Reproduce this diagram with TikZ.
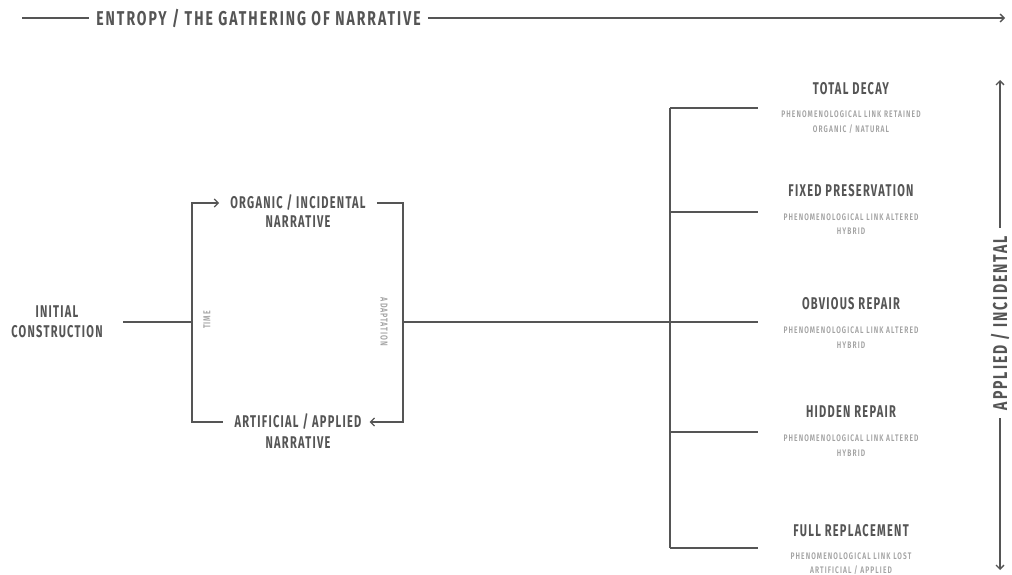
\documentclass[tikz,border=0pt]{standalone}
\usepackage{fontspec}
\usetikzlibrary{arrows.meta}
\newfontfamily\condfont{Fira Sans}[FakeStretch=0.65,LetterSpace=7.4,UprightFont=* Bold]
\newfontfamily\bigfont{Fira Sans}[FakeStretch=0.7,LetterSpace=10,UprightFont=* Bold]
\newfontfamily\condlight{Fira Sans}[FakeStretch=0.7,LetterSpace=11.5,UprightFont=* SemiBold]
\newfontfamily\tinyfont{Fira Sans}[FakeStretch=0.7,LetterSpace=10,UprightFont=* SemiBold]
\definecolor{ink}{HTML}{555555}
\definecolor{soft}{HTML}{A2A2A2}
\tikzset{
  wire/.style={draw=ink,line width=1.5pt},
  tip/.style={-{Straight Barb[length=4pt,width=8pt,line width=1.3pt]}},
  lab/.style={text=ink,font=\condfont\fontsize{17}{20}\selectfont,inner sep=0pt,align=center},
  big/.style={text=ink,font=\bigfont\fontsize{20}{24}\selectfont,inner sep=0pt},
  sub/.style={text=soft,font=\condlight\fontsize{9.5}{14.5}\selectfont,inner sep=0pt,align=center},
  tiny/.style={text=soft,font=\tinyfont\fontsize{10}{10}\selectfont,inner sep=0pt},
}
\begin{document}
\begin{tikzpicture}[x=1pt,y=-1pt]
\useasboundingbox (0,0) rectangle (1012,575);
% title
\node[big] (title) at (258.5,18) {ENTROPY / THE GATHERING OF NARRATIVE};
\coordinate (t0) at (22,18);
\coordinate (t1) at (1005,18);
\draw[wire] (t0) -- ([xshift=-7pt]title.west);
\draw[wire,tip] ([xshift=7pt]title.east) -- (t1);
% left part
\node[lab] (init) at (57,322) {INITIAL\\CONSTRUCTION};
\coordinate (a0) at (123,322);
\coordinate (L) at (192,322);
\coordinate (R) at (403,322);
\node[lab] (org1) at (298,203) {ORGANIC / INCIDENTAL};
\node[lab] (org2) at (298,222) {NARRATIVE};
\node[lab] (art1) at (298,422) {ARTIFICIAL / APPLIED};
\node[lab] (art2) at (298,443) {NARRATIVE};
\node[tiny,rotate=90] (time) at (207,320) {TIME};
\node[tiny,rotate=-90] (adapt) at (384,322) {ADAPTATION};
\draw[wire] (a0) -- (L);
\draw[wire,tip] (L) |- ([xshift=-11pt]org1.west);
\draw[wire] (L) |- ([xshift=-11pt]art1.west);
\draw[wire] ([xshift=11pt]org1.east) -| (R);
\draw[wire,tip] (R) |- ([xshift=8pt]art1.east);
% trunk
\coordinate (J) at (670,322);
\coordinate (Jt) at (670,108);
\coordinate (Jb) at (670,548);
\draw[wire] (R) -- (J);
\draw[wire] (Jt) -- (Jb);
\foreach \n/\y in {b1/108,b2/212,b3/322,b4/432,b5/548}{
  \coordinate (\n) at (758,\y);
}
\draw[wire] (Jt) -- (b1);
\draw[wire] (670,212) -- (b2);
\draw[wire] (J) -- (b3);
\draw[wire] (670,432) -- (b4);
\draw[wire] (Jb) -- (b5);
% outcomes
\node[lab] (o1) at (851,89) {TOTAL DECAY};
\node[sub] (s1) at (851,122) {PHENOMENOLOGICAL LINK RETAINED\\ORGANIC / NATURAL};
\node[lab] (o2) at (851,191) {FIXED PRESERVATION};
\node[sub] (s2) at (851,224) {PHENOMENOLOGICAL LINK ALTERED\\HYBRID};
\node[lab] (o3) at (851,304) {OBVIOUS REPAIR};
\node[sub] (s3) at (851,337.5) {PHENOMENOLOGICAL LINK ALTERED\\HYBRID};
\node[lab] (o4) at (851,412) {HIDDEN REPAIR};
\node[sub] (s4) at (851,445.5) {PHENOMENOLOGICAL LINK ALTERED\\HYBRID};
\node[lab] (o5) at (851,531) {FULL REPLACEMENT};
\node[sub] (s5) at (851,563.5) {PHENOMENOLOGICAL LINK LOST\\ARTIFICIAL / APPLIED};
% right axis
\node[big,rotate=90] (axis) at (1000,323) {APPLIED / INCIDENTAL};
\coordinate (up) at (1000,80);
\coordinate (dn) at (1000,570);
\draw[wire,tip] ([yshift=8pt]axis.east) -- (up);
\draw[wire,tip] ([yshift=-8pt]axis.west) -- (dn);
\end{tikzpicture}
\end{document}
